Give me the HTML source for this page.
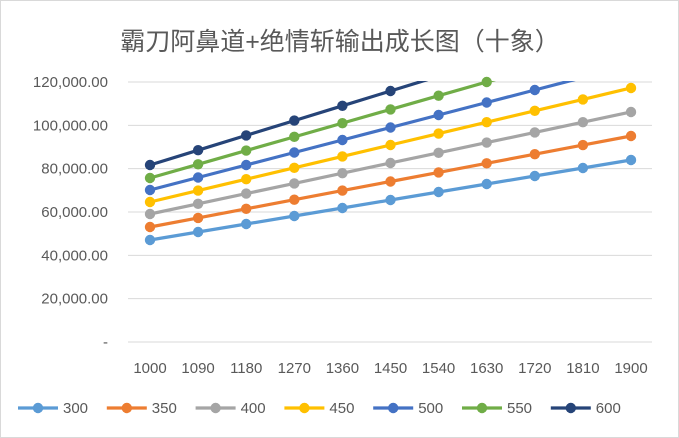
<!DOCTYPE html>
<html><head><meta charset="utf-8"><style>
body{margin:0;background:#fff;}
svg{display:block;font-family:"Liberation Sans","Noto Sans CJK SC",sans-serif;}
</style></head><body>
<svg id="c" width="679" height="438" viewBox="0 0 679 438" xmlns="http://www.w3.org/2000/svg">
<rect x="0.5" y="0.5" width="678" height="437" fill="#fff" stroke="#d9d9d9"/>
<text x="340" y="50" text-anchor="middle" font-size="25" fill="#595959">霸刀阿鼻道+绝情斩输出成长图（十象）</text>
<defs><clipPath id="pa"><rect x="126" y="81" width="530" height="265"/></clipPath></defs>
<g id="grid" stroke="#d9d9d9" stroke-width="1"></g>
<g id="yl" font-size="15" fill="#595959" text-anchor="end"></g>
<g id="xl" font-size="15" fill="#595959" text-anchor="middle"></g>
<g id="series" clip-path="url(#pa)"></g>
<g id="mk"></g>
<g id="leg" font-size="15" fill="#595959"></g>
</svg>
<script>
var NS="http://www.w3.org/2000/svg";
function el(p,t,a,txt){var e=document.createElementNS(NS,t);for(var k in a)e.setAttribute(k,a[k]);if(txt!=null)e.textContent=txt;document.getElementById(p).appendChild(e);}
function Y(v){return 342-v*260/120000;}
function X(i){return 150+i*48.1;}
var ylab=["-","20,000.00","40,000.00","60,000.00","80,000.00","100,000.00","120,000.00"];
for(var i=0;i<7;i++){var y=Y(i*20000);el("grid","line",{x1:128,x2:652,y1:y,y2:y});el("yl","text",{x:108,y:y+5},ylab[i]);}
for(var i=0;i<11;i++)el("xl","text",{x:X(i),y:373},String(1000+90*i));
var S=[["300","#5b9bd5",47077,3692],["350","#ed7d31",53077,4200],["400","#a5a5a5",59077,4708],["450","#ffc000",64615,5262],["500","#4472c4",70154,5769],["550","#70ad47",75692,6330],["600","#264478",81692,6831]];
S.forEach(function(s,k){var pts=[];for(var i=0;i<11;i++){var v=s[2]+s[3]*i;if(v>121000)break;pts.push([X(i),Y(v)]);}
if(pts.length<11){var i=pts.length;var v=s[2]+s[3]*i;pts.push([X(i),Y(v),1]);}
el("series","polyline",{points:pts.map(function(p){return p[0]+","+p[1]}).join(" "),fill:"none",stroke:s[1],"stroke-width":3.2,"stroke-linejoin":"round"});
pts.forEach(function(p){if(!p[2])el("mk","circle",{cx:p[0],cy:p[1],r:5.2,fill:s[1]});});
var lx=18+k*88.8;el("leg","line",{x1:lx,x2:lx+40,y1:408,y2:408,stroke:s[1],"stroke-width":3.2});el("leg","circle",{cx:lx+20,cy:408,r:5.2,fill:s[1]});el("leg","text",{x:lx+45,y:413},s[0]);});
</script>
</body></html>
